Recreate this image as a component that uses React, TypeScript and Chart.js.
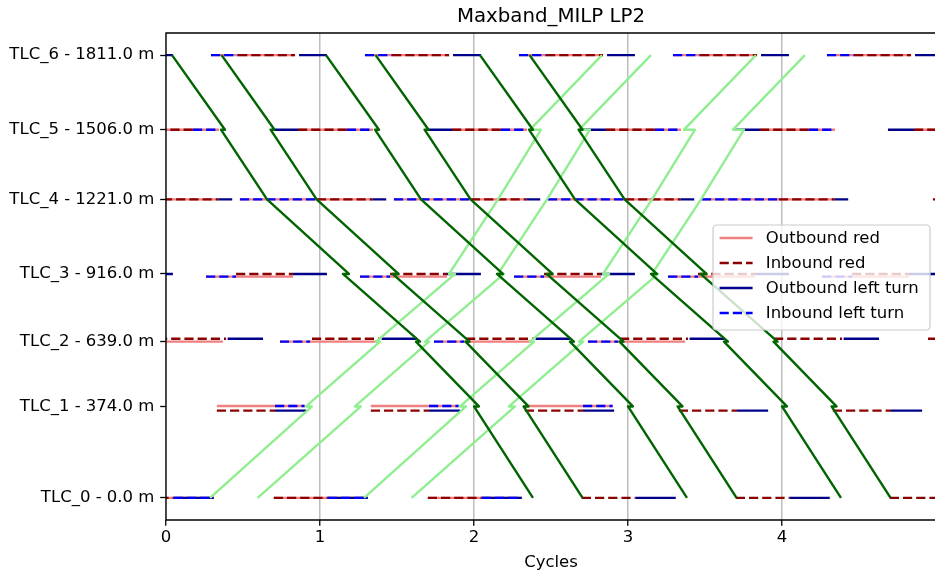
import React, { useEffect, useRef } from "react";
import { Chart, registerables } from "chart.js";

Chart.register(...registerables);

// ---------------- data ----------------
const chartTitle = "Maxband_MILP LP2";
const xAxisTitle = "Cycles";
const tickPositions = [0, 374, 639, 916, 1221, 1506, 1811];
const tickLabels = [
  "TLC_0 - 0.0 m",
  "TLC_1 - 374.0 m",
  "TLC_2 - 639.0 m",
  "TLC_3 - 916.0 m",
  "TLC_4 - 1221.0 m",
  "TLC_5 - 1506.0 m",
  "TLC_6 - 1811.0 m",
];
const cycleTicks = [0, 1, 2, 3, 4];
const xRange = [0, 5];
const yRange = [-90.55, 1901.55];

// drawn position (m) of the two signal rows at each intersection (index = TLC number)
const outboundRowY = [0, 376, 639, 905, 1221, 1506, 1811]; // outbound red + inbound left turn
const inboundRowY = [0, 357, 651, 916, 1221, 1506, 1811]; // inbound red + outbound left turn

// one cycle of signal timing per intersection: [start, end] in cycles
const outboundRed = [[0.7, 1.31], [0.33, 0.9], [0.74, 1.37], [0.26, 0.825], [0.48, 1.34], [0.857, 1.344], [0.292, 0.838]];
const inboundRed = [[0.7, 1.05], [0.33, 0.708], [0.948, 1.39], [0.455, 0.825], [-0.02, 0.34], [0.857, 1.175], [0.468, 0.838]];
const outboundLeft = [[1.05, 1.31], [0.708, 0.91], [1.4, 1.63], [0.825, 1.045], [0.34, 0.43], [0.688, 0.857], [0.864, 1.045]];
const inboundLeft = [[1.05, 1.31], [0.708, 0.9], [0.74, 0.935], [0.26, 0.455], [0.48, 0.98], [1.175, 1.344], [0.292, 0.468]];

// cycles in which each row is shown
const outboundCycles = [
  [-1, 0, 1],
  [-1, 0, 1, 2],
  [-1, 0, 1, 2],
  [-1, 0, 1, 2, 3, 4],
  [-1, 0, 1, 2, 3],
  [-1, 0, 1, 2, 3, 4],
  [-1, 0, 1, 2, 3, 4],
];
const inboundCycles = [
  [-1, 0, 1, 2, 3, 4, 5],
  [-1, 0, 1, 2, 3, 4, 5],
  [-1, 0, 1, 2, 3, 4, 5],
  [-1, 0, 1, 2, 3, 4, 5],
  [-1, 0, 1, 2, 3, 4, 5],
  [-1, 0, 1, 2, 3, 4, 5],
  [-1, 0, 1, 2, 3, 4, 5],
];

// green-wave band edges (x in cycles) with the positions they pass
const inboundBandY = [1811, 1506, 1506, 1221, 1221, 916, 916, 639, 639, 374, 374, 0];
const inboundBand1 = [0.039, 0.383, 0.357, 0.656, 0.656, 1.188, 1.149, 1.649, 1.623, 2.032, 2.0, 2.383];
const inboundBand2 = [0.361, 0.705, 0.679, 0.978, 0.978, 1.51, 1.471, 1.971, 1.945, 2.354, 2.322, 2.705];
const inboundBand3 = [1.039, 1.383, 1.357, 1.656, 1.656, 2.188, 2.149, 2.649, 2.623, 3.032, 3.0, 3.383];
const inboundBand4 = [1.361, 1.705, 1.679, 1.978, 1.978, 2.51, 2.471, 2.971, 2.945, 3.354, 3.322, 3.705];
const inboundBand5 = [2.039, 2.383, 2.357, 2.656, 2.656, 3.188, 3.149, 3.649, 3.623, 4.032, 4.0, 4.383];
const inboundBand6 = [2.361, 2.705, 2.679, 2.978, 2.978, 3.51, 3.471, 3.971, 3.945, 4.354, 4.322, 4.705];

const outboundBandY = [0, 374, 374, 639, 639, 916, 916, 1221, 1221, 1506, 1506, 1811];
const outboundBand1 = [0.286, 0.948, 0.909, 1.39, 1.364, 1.877, 1.838, 2.156, 2.156, 2.435, 2.364, 2.831];
const outboundBand2 = [0.595, 1.266, 1.227, 1.708, 1.682, 2.195, 2.156, 2.474, 2.474, 2.753, 2.682, 3.149];
const outboundBand3 = [1.286, 1.948, 1.909, 2.39, 2.364, 2.877, 2.838, 3.156, 3.156, 3.435, 3.364, 3.831];
const outboundBand4 = [1.595, 2.266, 2.227, 2.708, 2.682, 3.195, 3.156, 3.474, 3.474, 3.753, 3.682, 4.149];

const legendLabels = ["Outbound red", "Inbound red", "Outbound left turn", "Inbound left turn"];

// ---------------- styles ----------------
const FONT = '"DejaVu Sans", sans-serif';
const FS = 16.5;
const LW = 2.4;
const DASH = [9.2, 4.0];
const C_OUT_RED = "#f08080";
const C_IN_RED = "#8b0000";
const C_OUT_LEFT = "#00008b";
const C_IN_LEFT = "#0000ff";
const C_DARK_GREEN = "#006400";
const C_LIGHT_GREEN = "#90ee90";

const legendStyles = [
  { color: C_OUT_RED, dash: [] as number[] },
  { color: C_IN_RED, dash: DASH },
  { color: C_OUT_LEFT, dash: [] as number[] },
  { color: C_IN_LEFT, dash: DASH },
];

function buildSegments(base: number[][], cycles: number[][], rowY: number[]) {
  const pts: { x: number; y: number | null }[] = [];
  base.forEach(([s, e], i) => {
    cycles[i].forEach((c) => {
      pts.push({ x: s + c, y: rowY[i] }, { x: e + c, y: rowY[i] }, { x: e + c, y: null });
    });
  });
  return pts;
}

function bandLine(xs: number[], ys: number[]) {
  return xs.map((x, i) => ({ x, y: ys[i] }));
}

function lineDs(data: any[], color: string, dash: number[], order: number) {
  return {
    type: "line" as const,
    data,
    borderColor: color,
    backgroundColor: color,
    borderWidth: LW,
    borderDash: dash,
    borderCapStyle: "butt" as const,
    borderJoinStyle: "round" as const,
    pointRadius: 0,
    pointHoverRadius: 0,
    tension: 0,
    fill: false,
    spanGaps: false,
    order,
  };
}

const overlayPlugin = {
  id: "mplOverlay",
  afterDatasetsDraw(chart: any) {
    const { ctx, chartArea: a } = chart;
    ctx.save();
    // spines
    ctx.strokeStyle = "#000";
    ctx.lineWidth = 1.3;
    ctx.beginPath();
    ctx.moveTo(a.left, a.top);
    ctx.lineTo(a.right, a.top);
    ctx.lineTo(a.right, a.bottom);
    ctx.lineTo(a.left, a.bottom);
    ctx.closePath();
    ctx.stroke();

    // title
    ctx.fillStyle = "#000";
    ctx.font = `${19.8}px ${FONT}`;
    ctx.textAlign = "center";
    ctx.textBaseline = "alphabetic";
    ctx.fillText(chartTitle, (a.left + a.right) / 2, 22);

    // legend (center right)
    ctx.font = `${FS}px ${FONT}`;
    const pad = 0.4 * FS;
    const handle = 2 * FS;
    const gap = 0.8 * FS;
    const w = 217;
    const rowStep = 25;
    const h = 105;
    const right = a.right - 6;
    const left = right - w;
    const top = (a.top + a.bottom) / 2 - h / 2 + 1;
    const r = 4;
    ctx.beginPath();
    ctx.moveTo(left + r, top);
    ctx.lineTo(left + w - r, top);
    ctx.quadraticCurveTo(left + w, top, left + w, top + r);
    ctx.lineTo(left + w, top + h - r);
    ctx.quadraticCurveTo(left + w, top + h, left + w - r, top + h);
    ctx.lineTo(left + r, top + h);
    ctx.quadraticCurveTo(left, top + h, left, top + h - r);
    ctx.lineTo(left, top + r);
    ctx.quadraticCurveTo(left, top, left + r, top);
    ctx.closePath();
    ctx.fillStyle = "rgba(255,255,255,0.8)";
    ctx.fill();
    ctx.strokeStyle = "#cccccc";
    ctx.lineWidth = 1.2;
    ctx.stroke();

    legendLabels.forEach((label, i) => {
      const cy = top + 13 + i * rowStep;
      const st = legendStyles[i];
      ctx.beginPath();
      ctx.setLineDash(st.dash);
      ctx.strokeStyle = st.color;
      ctx.lineWidth = LW;
      ctx.lineCap = "butt";
      ctx.moveTo(left + pad, cy);
      ctx.lineTo(left + pad + handle, cy);
      ctx.stroke();
      ctx.setLineDash([]);
      ctx.fillStyle = "#000";
      ctx.textAlign = "left";
      ctx.textBaseline = "middle";
      ctx.fillText(label, left + pad + handle + gap, cy + 1);
    });
    ctx.restore();
  },
};

export default function App() {
  const ref = useRef<HTMLCanvasElement | null>(null);

  useEffect(() => {
    if (!ref.current) return;
    const datasets: any[] = [
      lineDs(buildSegments(outboundRed, outboundCycles, outboundRowY), C_OUT_RED, [], 6),
      lineDs(buildSegments(inboundRed, inboundCycles, inboundRowY), C_IN_RED, DASH, 5),
      lineDs(buildSegments(outboundLeft, inboundCycles, inboundRowY), C_OUT_LEFT, [], 4),
      lineDs(buildSegments(inboundLeft, outboundCycles, outboundRowY), C_IN_LEFT, DASH, 3),
    ];
    [outboundBand1, outboundBand2, outboundBand3, outboundBand4].forEach((b) =>
      datasets.push(lineDs(bandLine(b, outboundBandY), C_LIGHT_GREEN, [], 2))
    );
    [inboundBand1, inboundBand2, inboundBand3, inboundBand4, inboundBand5, inboundBand6].forEach((b) =>
      datasets.push(lineDs(bandLine(b, inboundBandY), C_DARK_GREEN, [], 1))
    );

    const chart = new Chart(ref.current, {
      type: "line",
      data: { datasets },
      options: {
        responsive: false,
        animation: false,
        devicePixelRatio: 1,
        events: [],
        layout: { padding: { top: 33, right: 9, left: 0, bottom: 0 } },
        plugins: {
          legend: { display: false },
          tooltip: { enabled: false },
          title: { display: false },
        },
        scales: {
          x: {
            type: "linear",
            min: xRange[0],
            max: xRange[1],
            afterBuildTicks: (s: any) => {
              s.ticks = cycleTicks.map((v) => ({ value: v }));
            },
            afterFit: (s: any) => {
              s.height = 54;
            },
            ticks: {
              color: "#000",
              font: { family: FONT, size: FS },
              padding: 2,
              autoSkip: false,
              maxRotation: 0,
              callback: (v: any) => String(v),
            },
            grid: {
              color: "#bdbdbd",
              lineWidth: 1.5,
              tickColor: "#000",
              tickLength: 5.8,
              tickWidth: 1.3,
              drawOnChartArea: true,
            },
            border: { display: false },
            title: {
              display: true,
              text: xAxisTitle,
              color: "#000",
              font: { family: FONT, size: FS },
              padding: { top: 0, bottom: 1 },
            },
          },
          y: {
            type: "linear",
            min: yRange[0],
            max: yRange[1],
            afterBuildTicks: (s: any) => {
              s.ticks = tickPositions.map((v) => ({ value: v }));
            },
            afterFit: (s: any) => {
              s.width = 166;
            },
            ticks: {
              color: "#000",
              font: { family: FONT, size: FS },
              padding: 5.8,
              autoSkip: false,
              callback: (_v: any, i: number) => tickLabels[i],
            },
            grid: {
              drawOnChartArea: false,
              tickColor: "#000",
              tickLength: 5.8,
              tickWidth: 1.3,
            },
            border: { display: false },
          },
        },
      },
      plugins: [overlayPlugin],
    } as any);
    return () => chart.destroy();
  }, []);

  return (
    <div
      style={{
        position: "fixed",
        left: 0,
        top: 0,
        width: 935,
        height: 574,
        overflow: "hidden",
        background: "#ffffff",
      }}
    >
      <canvas ref={ref} width={945} height={574} style={{ display: "block", width: 945, height: 574 }} />
    </div>
  );
}
